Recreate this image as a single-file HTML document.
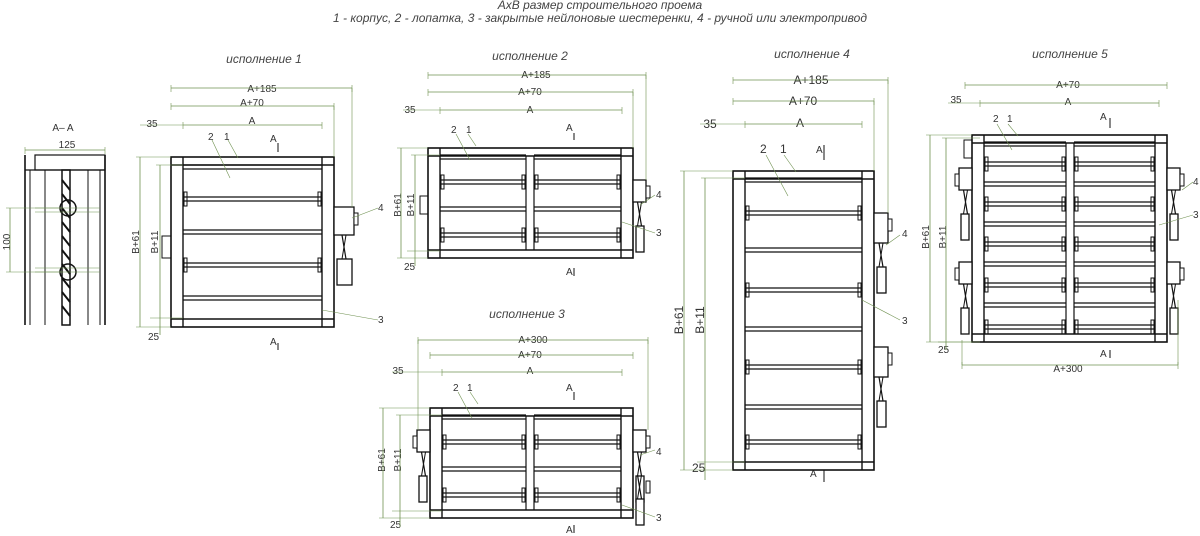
<!DOCTYPE html>
<html><head><meta charset="utf-8"><style>
html,body{margin:0;padding:0;background:#fff;width:1200px;height:536px;overflow:hidden}
svg{display:block}
.t{font-family:"Liberation Sans",sans-serif;font-style:italic;fill:#444;font-size:12px}
.d{font-family:"Liberation Sans",sans-serif;fill:#333;font-size:10px}
</style></head><body>
<svg id="s" width="1200" height="536" viewBox="0 0 1200 536" xmlns="http://www.w3.org/2000/svg">
<text class="t" x="600" y="9" text-anchor="middle">AxB размер строительного проема</text>
<text class="t" x="600" y="22" text-anchor="middle">1 - корпус, 2 - лопатка, 3 - закрытые нейлоновые шестеренки, 4 - ручной или электропривод</text>
<text class="t" x="264" y="63" text-anchor="middle">исполнение 1</text>
<text class="t" x="530" y="60" text-anchor="middle">исполнение 2</text>
<text class="t" x="527" y="318" text-anchor="middle">исполнение 3</text>
<text class="t" x="812" y="58" text-anchor="middle">исполнение 4</text>
<text class="t" x="1070" y="58" text-anchor="middle">исполнение 5</text>
<text class="d" x="63" y="131" text-anchor="middle">A– A</text>
<text class="d" x="67" y="148" text-anchor="middle">125</text>
<text class="d" x="10" y="242" text-anchor="middle" transform="rotate(-90 10 242)">100</text>
<!-- view1 labels -->
<text class="d" x="262" y="92" text-anchor="middle">A+185</text>
<text class="d" x="252" y="106" text-anchor="middle">A+70</text>
<text class="d" x="252" y="124" text-anchor="middle">A</text>
<text class="d" x="152" y="127" text-anchor="middle">35</text>
<text class="d" x="208" y="140">2</text><text class="d" x="224" y="140">1</text>
<text class="d" x="270" y="142">A</text>
<text class="d" x="270" y="345">A</text>
<text class="d" x="148" y="340">25</text>
<text class="d" x="139" y="242" text-anchor="middle" transform="rotate(-90 139 242)">B+61</text>
<text class="d" x="158" y="242" text-anchor="middle" transform="rotate(-90 158 242)">B+11</text>
<text class="d" x="378" y="211">4</text><text class="d" x="378" y="323">3</text>
<!-- view2 -->
<text class="d" x="536" y="78" text-anchor="middle">A+185</text>
<text class="d" x="530" y="95" text-anchor="middle">A+70</text>
<text class="d" x="530" y="113" text-anchor="middle">A</text>
<text class="d" x="410" y="113" text-anchor="middle">35</text>
<text class="d" x="451" y="133">2</text><text class="d" x="466" y="133">1</text>
<text class="d" x="566" y="131">A</text><text class="d" x="566" y="275">A</text>
<text class="d" x="404" y="270">25</text>
<text class="d" x="401" y="205" text-anchor="middle" transform="rotate(-90 401 205)">B+61</text>
<text class="d" x="414" y="205" text-anchor="middle" transform="rotate(-90 414 205)">B+11</text>
<text class="d" x="656" y="198">4</text><text class="d" x="656" y="236">3</text>
<!-- view3 -->
<text class="d" x="533" y="343" text-anchor="middle">A+300</text>
<text class="d" x="530" y="358" text-anchor="middle">A+70</text>
<text class="d" x="530" y="374" text-anchor="middle">A</text>
<text class="d" x="398" y="374" text-anchor="middle">35</text>
<text class="d" x="453" y="391">2</text><text class="d" x="467" y="391">1</text>
<text class="d" x="566" y="391">A</text><text class="d" x="566" y="533">A</text>
<text class="d" x="390" y="528">25</text>
<text class="d" x="385" y="460" text-anchor="middle" transform="rotate(-90 385 460)">B+61</text>
<text class="d" x="401" y="460" text-anchor="middle" transform="rotate(-90 401 460)">B+11</text>
<text class="d" x="656" y="455">4</text><text class="d" x="656" y="521">3</text>
<!-- view4 -->
<text class="d" x="811" y="84" text-anchor="middle" style="font-size:12px">A+185</text>
<text class="d" x="803" y="105" text-anchor="middle" style="font-size:12px">A+70</text>
<text class="d" x="800" y="127" text-anchor="middle" style="font-size:12px">A</text>
<text class="d" x="710" y="128" text-anchor="middle" style="font-size:12px">35</text>
<text class="d" x="760" y="153" style="font-size:12px">2</text><text class="d" x="780" y="153" style="font-size:12px">1</text>
<text class="d" x="816" y="153">A</text><text class="d" x="810" y="477">A</text>
<text class="d" x="692" y="472" style="font-size:12px">25</text>
<text class="d" x="683" y="320" text-anchor="middle" transform="rotate(-90 683 320)" style="font-size:12px">B+61</text>
<text class="d" x="704" y="320" text-anchor="middle" transform="rotate(-90 704 320)" style="font-size:12px">B+11</text>
<text class="d" x="902" y="237">4</text><text class="d" x="902" y="324">3</text>
<!-- view5 -->
<text class="d" x="1068" y="88" text-anchor="middle">A+70</text>
<text class="d" x="1068" y="105" text-anchor="middle">A</text>
<text class="d" x="956" y="103" text-anchor="middle">35</text>
<text class="d" x="993" y="122">2</text><text class="d" x="1007" y="122">1</text>
<text class="d" x="1100" y="120">A</text><text class="d" x="1100" y="357">A</text>
<text class="d" x="938" y="353">25</text>
<text class="d" x="1068" y="372" text-anchor="middle">A+300</text>
<text class="d" x="929" y="237" text-anchor="middle" transform="rotate(-90 929 237)">B+61</text>
<text class="d" x="946" y="237" text-anchor="middle" transform="rotate(-90 946 237)">B+11</text>
<text class="d" x="1193" y="185">4</text><text class="d" x="1193" y="218">3</text>
<g id="g"></g>
</svg>
<script>
var g=document.getElementById('g'),o='';
var G='#6f9150',K='#111';
function L(a,b,c,d,col,w){o+='<line x1="'+a+'" y1="'+b+'" x2="'+c+'" y2="'+d+'" stroke="'+(col||K)+'" stroke-width="'+(w||1)+'"/>';}
function R(x,y,w,h,col,sw,f){o+='<rect x="'+x+'" y="'+y+'" width="'+w+'" height="'+h+'" fill="'+(f||'none')+'" stroke="'+(col||K)+'" stroke-width="'+(sw||1)+'"/>';}
function H(y,x1,x2,ext){L(x1,y,x2,y,G,0.8);if(ext!==false){L(x1,y-3,x1,ext||y+4,G,0.6);L(x2,y-3,x2,ext||y+4,G,0.6);}}
function V(x,y1,y2){L(x,y1,x,y2,G,0.8);}
function damper(x1,y1,x2,y2,div,bars,thick){
 R(x1,y1,x2-x1,y2-y1,K,1.6);
 var ix1=x1+12,ix2=x2-12,iy1=y1+8,iy2=y2-8;
 L(ix1,y1,ix1,y2,K,1.4);L(ix2,y1,ix2,y2,K,1.4);L(x1,iy1,x2,iy1,K,1.4);L(x1,iy2,x2,iy2,K,1.4);
 var segs=div?[[ix1,div-4],[div+4,ix2]]:[[ix1,ix2]];
 if(div){L(div-4,iy1,div-4,iy2,K,1.2);L(div+4,iy1,div+4,iy2,K,1.2);}
 bars.forEach(function(y,i){segs.forEach(function(s){L(s[0],y,s[1],y,K,1.3);L(s[0],y+4,s[1],y+4,K,1.3);
  if(i%2==(thick||0)){R(s[0]+1,y-5,3,14,K,1);R(s[1]-4,y-5,3,14,K,1);}});});
}
function act(x,y,w,h,left){R(x,y,w,h,K,1.3,'#fff');var mx=left?x+2:x+3;R(mx,y+h+24,w-5,26,K,1.3,'#fff');L(x+w/2-2,y+h,x+w/2+2,y+h+24,K,1.2);L(x+w/2+2,y+h,x+w/2-2,y+h+24,K,1);R(left?x-4:x+w,y+6,4,12,K,1,'#fff');}
// view1
damper(171,157,334,327,0,[165,197,230,263,296],1);
act(334,207,20,28);R(162,236,9,22,K,1);
H(88,171,352);H(106,171,334);H(125,183,322);L(140,125,183,125,G,0.6);
V(140,157,327);L(136,157,171,157,G,0.6);L(136,327,171,327,G,0.6);V(160,165,335);L(156,165,183,165,G,0.6);L(150,318,183,318,G,0.6);
L(352,88,352,207,G,0.6);L(334,106,334,157,G,0.6);
L(352,218,378,208,G,0.6);L(322,310,378,320,G,0.6);
L(212,140,230,178,G,0.6);L(228,140,238,158,G,0.6);
L(278,143,278,152,K,1);L(278,343,278,350,K,1);
// view2
damper(428,148,633,258,530,[155,180,207,233],1);
act(633,180,13,22);R(420,196,8,18,K,1);
H(75,428,646);H(92,428,633);H(110,440,622);L(403,110,440,110,G,0.6);
V(401,148,258);L(397,148,428,148,G,0.6);L(397,258,428,258,G,0.6);V(415,155,266);L(411,155,440,155,G,0.6);L(407,251,440,251,G,0.6);
L(646,75,646,180,G,0.6);L(633,92,633,148,G,0.6);
L(640,205,655,195,G,0.6);L(622,222,655,233,G,0.6);
L(456,134,470,160,G,0.6);L(468,134,476,146,G,0.6);
L(574,133,574,140,K,1);L(574,268,574,276,K,1);
// view3
damper(430,408,633,518,530,[415,440,467,493],1);
act(633,430,13,22);act(417,430,13,22,1);act(633,475,13,0);
H(340,418,648);H(355,430,633);H(372,442,622);L(392,372,442,372,G,0.6);
V(383,408,518);L(379,408,430,408,G,0.6);L(379,518,430,518,G,0.6);V(400,415,527);L(396,415,442,415,G,0.6);L(392,511,442,511,G,0.6);
L(418,340,418,430,G,0.6);L(648,340,648,430,G,0.6);
L(640,455,655,450,G,0.6);L(622,505,655,517,G,0.6);
L(458,392,472,418,G,0.6);L(470,392,478,404,G,0.6);
L(574,392,574,400,K,1);L(574,525,574,533,K,1);
// view4
damper(733,171,874,470,0,[178,211,248,288,327,365,405,440],1);
act(874,213,14,30);act(874,347,14,30);
H(80,733,888);H(101,733,874);H(124,745,862);L(700,124,745,124,G,0.6);
V(684,171,470);L(680,171,733,171,G,0.6);L(680,470,733,470,G,0.6);V(705,178,480);L(701,178,745,178,G,0.6);L(697,462,745,462,G,0.6);
L(888,80,888,213,G,0.6);L(874,101,874,171,G,0.6);
L(886,245,900,235,G,0.6);L(862,300,900,320,G,0.6);
L(766,155,788,196,G,0.6);L(784,155,796,172,G,0.6);
L(824,145,824,160,K,1);L(824,470,824,482,K,1);
// view5
damper(972,135,1167,342,1070,[142,162,182,202,222,242,262,283,303,325],1);
act(1167,168,13,22);act(1167,262,13,22);act(959,168,13,22,1);act(959,262,13,22,1);R(964,140,8,18,K,1);
H(85,965,1167);H(103,980,1159);L(948,103,980,103,G,0.6);
H(365,962,1178);L(962,340,962,365,G,0.6);L(1178,300,1178,365,G,0.6);
V(930,135,342);L(926,135,972,135,G,0.6);L(926,342,972,342,G,0.6);V(946,138,350);L(942,138,980,138,G,0.6);L(938,342,980,342,G,0.6);
L(1182,190,1193,182,G,0.6);L(1159,225,1193,215,G,0.6);
L(997,124,1012,150,G,0.6);L(1008,124,1018,136,G,0.6);
L(1110,118,1110,128,K,1);L(1110,350,1110,358,K,1);
// section A-A
H(150,25,105);R(35,155,70,15,K,1.2);
L(25,155,25,325,K,1.6);L(105,155,105,325,K,1.6);L(25,170,105,170,K,1.2);L(30,170,30,325,K,1);L(100,170,100,325,K,1);
L(45,170,45,325,K,1);L(88,170,88,325,K,1);R(62,170,8,155,K,1.5);
for(var y=180;y<320;y+=14){L(62,y,70,y+10,K,2);}
o+='<circle cx="68" cy="208" r="8" fill="none" stroke="'+K+'" stroke-width="1.5"/><circle cx="68" cy="272" r="8" fill="none" stroke="'+K+'" stroke-width="1.5"/>';
L(35,208,100,208,G,0.6);L(35,272,100,272,G,0.6);L(35,212,100,212,G,0.6);L(35,268,100,268,G,0.6);
V(10,208,272);L(6,208,62,208,G,0.6);L(6,272,62,272,G,0.6);
g.innerHTML=o;
</script>
</body></html>
